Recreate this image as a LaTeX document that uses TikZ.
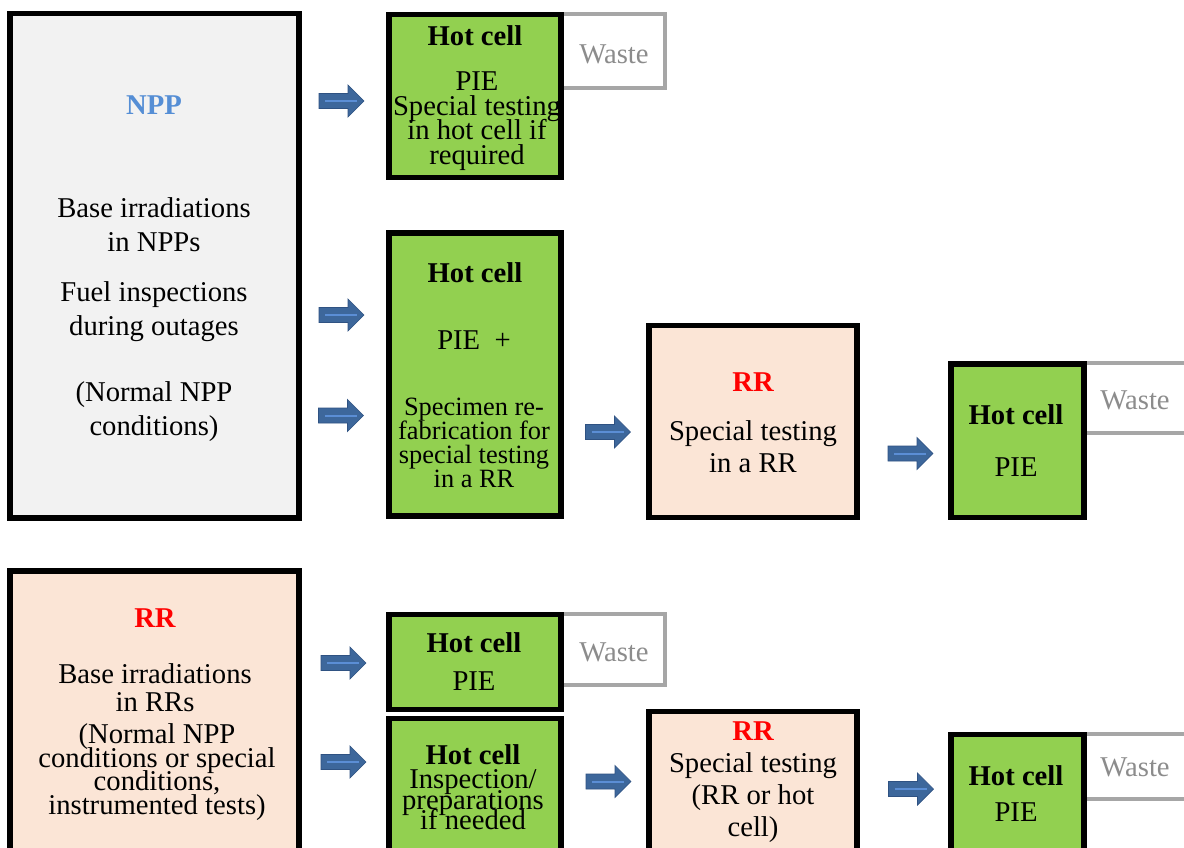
\documentclass[tikz,border=0pt]{standalone}
\usepackage{fontspec}
\setmainfont{Liberation Serif}
\definecolor{hotgreen}{RGB}{146,208,80}
\definecolor{rrpeach}{RGB}{251,229,214}
\definecolor{nppgrey}{RGB}{242,242,242}
\definecolor{nppblue}{RGB}{85,142,213}
\definecolor{rrred}{RGB}{255,0,0}
\definecolor{wastegrey}{RGB}{166,166,166}
\definecolor{wastetext}{RGB}{140,140,140}
\definecolor{arrowfill}{RGB}{61,103,155}
\definecolor{arrowdraw}{RGB}{47,82,130}
\definecolor{arrowlight}{RGB}{91,142,213}
\newcommand{\fs}[2]{\fontsize{#1}{#2}\selectfont\lineskiplimit=-50pt\lineskip=0pt}
\tikzset{
  box/.style={draw=black, line width=4pt, inner sep=0pt, outer sep=0pt},
  hot/.style={box, fill=hotgreen},
  rrbox/.style={box, fill=rrpeach},
  nppbox/.style={box, fill=nppgrey},
  txt/.style={align=center, inner sep=0pt, font=\fs{21.5}{25.5}},
  ttl/.style={align=center, inner sep=0pt, font=\fs{21.5}{25.5}\bfseries},
  wastebox/.style={draw=wastegrey, line width=3pt},
  wastetxt/.style={txt, text=wastetext},
  arrowbody/.style={fill=arrowfill, draw=arrowdraw, line width=0.5pt},
  hl/.style={draw=arrowlight, line width=1.5pt}
}
\newcommand{\blockarr}[3]{%
  \coordinate (#1) at (#2,#3);
  \begin{scope}[shift={(#1)}]
    \draw[arrowbody] (-22.5,-7.5) -- (6.5,-7.5) -- (6.5,-16) -- (22.5,0) -- (6.5,16) -- (6.5,7.5) -- (-22.5,7.5) -- cycle;
    \draw[hl] (-16.5,0) -- (15.5,0);
  \end{scope}
}
\begin{document}
\begin{tikzpicture}[x=0.75pt,y=-0.75pt]
\clip (0,0) rectangle (1184,847);
\fill[white] (0,0) rectangle (1184,847);

% waste boxes (drawn first, hot cells cover their left ends)
\draw[wastebox] (555,14) -| (665,88) -- (555,88);
\draw[wastebox] (555,614) -| (665,685) -- (555,685);
\draw[wastebox] (1080,363) -- (1190,363);
\draw[wastebox] (1080,433) -- (1190,433);
\draw[wastebox] (1080,734) -- (1190,734);
\draw[wastebox] (1080,799) -- (1190,799);

% main boxes
\node[nppbox, minimum width=216.75pt, minimum height=378.4pt] (npp) at (154.5,265.75) {};
\node[hot, minimum width=129pt, minimum height=122.25pt] (hc1) at (475,96) {};
\node[hot, minimum width=129pt, minimum height=212.25pt] (hc2) at (475,374.5) {};
\node[rrbox, minimum width=156pt, minimum height=144pt] (rr1) at (753,421.5) {};
\node[hot, minimum width=99.75pt, minimum height=115pt] (hc3) at (1017.5,440.75) {};

\node[rrbox, minimum width=216.75pt, minimum height=218.25pt] (rr2) at (154.5,716.5) {};
\node[hot, minimum width=129pt, minimum height=71.25pt] (hc4) at (475,662) {};
\node[hot, minimum width=129pt, minimum height=105.75pt] (hc5) at (475,789) {};
\node[rrbox, minimum width=156pt, minimum height=112.9pt] (rr3) at (753,786.75) {};
\node[hot, minimum width=99.75pt, minimum height=95.6pt] (hc6) at (1017.5,798.25) {};

% texts: NPP box
\node[ttl, text=nppblue] (npptitle) at (154,105) {NPP};
\node[txt] (nppa) at (154,225) {Base irradiations\\in NPPs};
\node[txt] (nppb) at (154,312) {Fuel inspections\\during outages};
\node[txt] (nppc) at (154,412) {(Normal NPP\\conditions)};

% hot cell 1
\node[ttl] (hc1t) at (475,36) {Hot cell};
\node[txt, font=\fs{21.5}{18.4}] (hc1b) at (477,121) {PIE\\Special testing\\in hot cell if\\required};
\node[wastetxt] (w1) at (614,54) {Waste};

% hot cell 2
\node[ttl] (hc2t) at (475,273) {Hot cell};
\node[txt] (hc2m) at (474,340) {PIE\ \ +};
\node[txt, font=\fs{19.8}{18}] (hc2b) at (474,443) {Specimen re-\\fabrication for\\special testing\\in a RR};

% RR 1
\node[ttl, text=rrred] (rr1t) at (753,382) {RR};
\node[txt, font=\fs{21.5}{24}] (rr1b) at (753,447) {Special testing\\in a RR};

% hot cell 3
\node[ttl] (hc3t) at (1016,415) {Hot cell};
\node[txt] (hc3b) at (1016,467) {PIE};
\node[wastetxt] (w3) at (1135,400) {Waste};

% RR 2
\node[ttl, text=rrred] (rr2t) at (155,618) {RR};
\node[txt, font=\fs{21.5}{21}] (rr2b) at (155,688) {Base irradiations\\in RRs};
\node[txt, font=\fs{21.5}{17.8}] (rr2c) at (157,772) {(Normal NPP\\conditions or special\\conditions,\\instrumented tests)};

% hot cell 4
\node[ttl] (hc4t) at (474,643) {Hot cell};
\node[txt] (hc4b) at (474,681) {PIE};
\node[wastetxt] (w4) at (614,652) {Waste};

% hot cell 5
\node[ttl] (hc5t) at (473,755) {Hot cell};
\node[txt, font=\fs{21.5}{15.4}] (hc5b) at (473,800) {Inspection/\\preparations\\if needed};

% RR 3
\node[ttl, text=rrred] (rr3t) at (753,731) {RR};
\node[txt, font=\fs{21.5}{24}] (rr3b) at (753,798) {Special testing\\(RR or hot\\cell)};

% hot cell 6
\node[ttl] (hc6t) at (1016,776) {Hot cell};
\node[txt] (hc6b) at (1016,812) {PIE};
\node[wastetxt] (w6) at (1135,767) {Waste};

% block arrows
\blockarr{a1}{341.5}{101}
\blockarr{a2}{341.5}{315}
\blockarr{a3}{341}{415.5}
\blockarr{a4}{608}{432}
\blockarr{a5}{910.5}{453.5}
\blockarr{a6}{343.5}{663}
\blockarr{a7}{343.5}{762}
\blockarr{a8}{608.5}{781.5}
\blockarr{a9}{911}{789}
\end{tikzpicture}
\end{document}
